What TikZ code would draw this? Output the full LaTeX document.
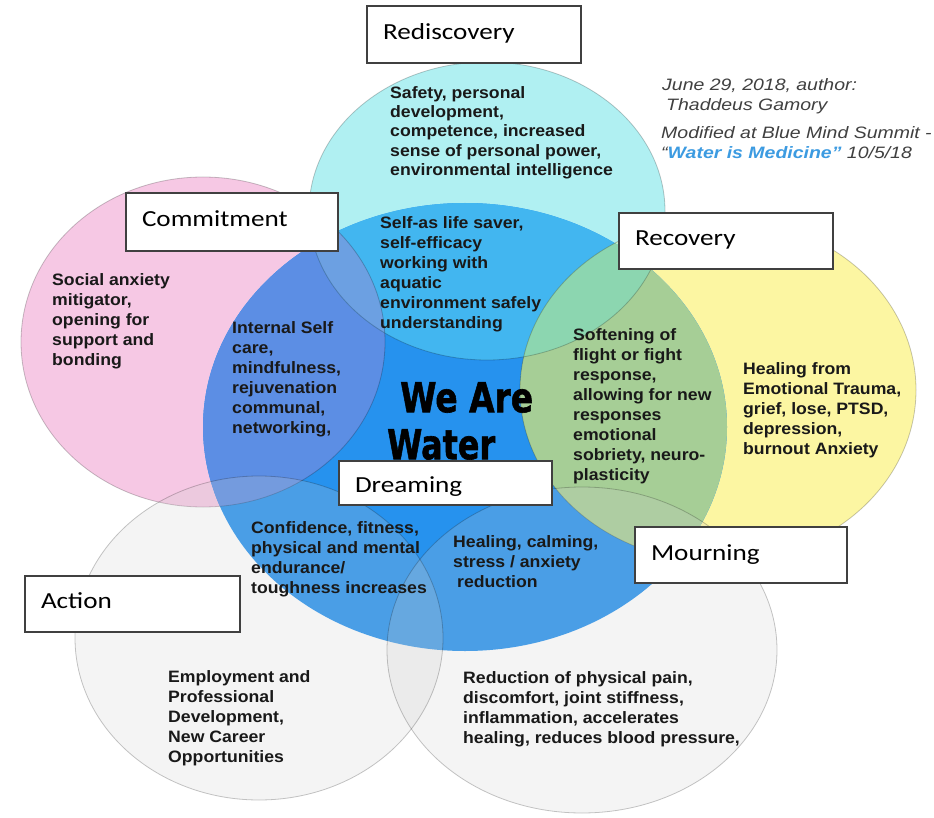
\documentclass[tikz,border=0pt]{standalone}
\usepackage{fontspec}
\usepackage{graphicx}
\setmainfont{Liberation Sans}
\newfontfamily\bodyfont{Liberation Sans}[FakeStretch=1.07]
\newfontfamily\notefont{Liberation Sans}[FakeStretch=1.18]
\newfontfamily\labelfont{Carlito}[FakeStretch=1.18]
\newfontfamily\bigfont{DejaVu Sans}[FakeBold=1.5]

% region colours
\definecolor{pinkF}{RGB}{246,200,228}
\definecolor{cyanF}{RGB}{176,240,242}
\definecolor{blueF}{RGB}{38,146,238}
\definecolor{yellowF}{RGB}{252,246,162}
\definecolor{pinkBlue}{RGB}{92,142,228}
\definecolor{cyanBlue}{RGB}{66,182,240}
\definecolor{pinkCyan}{RGB}{205,215,240}
\definecolor{pinkCyanBlue}{RGB}{108,160,226}
\definecolor{greenF}{RGB}{166,206,150}
\definecolor{tealF}{RGB}{140,214,176}
\definecolor{cyanYellow}{RGB}{200,244,206}
\definecolor{grayF}{RGB}{205,205,205}
\definecolor{noteBlue}{RGB}{60,155,225}

\begin{document}
\begin{tikzpicture}[x=1pt,y=-1pt,
  outline/.style={draw=black, draw opacity=0.22, line width=0.8pt},
  veil/.style={fill=grayF, fill opacity=0.22},
  bodytext/.style={anchor=north west, inner sep=0pt, align=left, text=black!90,
    font=\bodyfont\bfseries\fontsize{16.5}{20}\selectfont},
  notetext/.style={anchor=north west, inner sep=0pt, align=left, text=black!75,
    font=\notefont\itshape\fontsize{16.5}{20}\selectfont},
  labelbox/.style={draw=black!75, line width=1.2pt, fill=white, inner xsep=16pt,
    inner ysep=0pt, align=left, text height=15pt, text depth=5pt,
    font=\labelfont\fontsize{23}{26}\selectfont},
  bigword/.style={anchor=south west, inner sep=0pt, text=black}]

\useasboundingbox (0,0) rectangle (934,818);
\fill[white] (0,0) rectangle (934,818);

% the six overlapping ellipses
\def\shPink{(203,342) ellipse [x radius=182pt, y radius=165pt]}
\def\shCyan{(487,211) ellipse [x radius=178pt, y radius=149pt]}
\def\shBlue{(465,427) ellipse [x radius=262pt, y radius=224pt]}
\def\shYellow{(718,390) ellipse [x radius=198pt, y radius=172pt]}
\def\shAction{(259,638) ellipse [x radius=184pt, y radius=162pt]}
\def\shMourn{(582,650) ellipse [x radius=195pt, y radius=163pt]}

% base fills
\fill[pinkF] \shPink;
\fill[cyanF] \shCyan;
\fill[yellowF] \shYellow;
\begin{scope}
  \clip \shCyan;
  \fill[cyanYellow] \shYellow;
  \fill[pinkCyan] \shPink;
\end{scope}
\fill[blueF] \shBlue;

% overlaps inside the central circle
\begin{scope}
  \clip \shBlue;
  \fill[pinkBlue] \shPink;
  \fill[cyanBlue] \shCyan;
  \fill[greenF] \shYellow;
  \clip \shCyan;
  \fill[tealF] \shYellow;
  \fill[pinkCyanBlue] \shPink;
\end{scope}

\path[outline] \shPink;
\path[outline] \shCyan;
\path[outline] \shYellow;

% translucent lower circles
\fill[veil] \shAction;
\fill[veil] \shMourn;
\path[outline] \shAction;
\path[outline] \shMourn;

% texts in the regions
\node[bodytext, font=\bodyfont\bfseries\fontsize{16.5}{19.3}\selectfont] (tRedis) at (390,86)
  {Safety, personal\\development,\\competence, increased\\sense of personal power,\\environmental intelligence};
\node[bodytext] (tSelf) at (380,216)
  {Self-as life saver,\\self-efficacy\\working with\\aquatic\\environment safely\\understanding};
\node[bodytext] (tSocial) at (52,273)
  {Social anxiety\\mitigator,\\opening for\\support and\\bonding};
\node[bodytext] (tInternal) at (232,321)
  {Internal Self\\care,\\mindfulness,\\rejuvenation\\communal,\\networking,};
\node[bodytext] (tSoften) at (573,328)
  {Softening of\\flight or fight\\response,\\allowing for new\\responses\\emotional\\sobriety, neuro-\\plasticity};
\node[bodytext] (tTrauma) at (743,362)
  {Healing from\\Emotional Trauma,\\grief, lose, PTSD,\\depression,\\burnout Anxiety};
\node[bodytext] (tConf) at (251,521)
  {Confidence, fitness,\\physical and mental\\endurance/\\toughness increases};
\node[bodytext] (tCalm) at (453,535)
  {Healing, calming,\\stress / anxiety\\\hspace{4pt}reduction};
\node[bodytext] (tEmploy) at (168,670)
  {Employment and\\Professional\\Development,\\New Career\\Opportunities};
\node[bodytext] (tPain) at (463,671)
  {Reduction of physical pain,\\discomfort, joint stiffness,\\inflammation, accelerates\\healing, reduces blood pressure,};

% central title
\node[bigword] (weare) at (400,413) {\resizebox{133pt}{30pt}{\bigfont\bfseries We Are}};
\node[bigword] (water) at (387,460) {\resizebox{108pt}{30pt}{\bigfont\bfseries Water}};

% authorship notes
\node[notetext] (noteA) at (662,78) {June 29, 2018, author:\\\hspace{4pt}Thaddeus Gamory};
\node[notetext] (noteB) at (661,126)
  {Modified at Blue Mind Summit -\\“{\color{noteBlue}\bfseries Water is Medicine”} 10/5/18};

% stage labels
\node[labelbox, minimum width=214pt, minimum height=57pt, text width=182pt] (rediscovery) at (474,34.5) {Rediscovery};
\node[labelbox, minimum width=212pt, minimum height=58pt, text width=180pt] (commitment) at (232,222) {Commitment};
\node[labelbox, minimum width=214pt, minimum height=56pt, text width=182pt] (recovery) at (726,241) {Recovery};
\node[labelbox, minimum width=213pt, minimum height=44pt, text width=181pt, text height=20pt, text depth=2pt] (dreaming) at (445.5,483) {Dreaming};
\node[labelbox, minimum width=212pt, minimum height=56pt, text width=180pt] (mourning) at (741,555) {Mourning};
\node[labelbox, minimum width=215pt, minimum height=56pt, text width=183pt, text height=14pt, text depth=6pt] (action) at (132.5,604) {Action};

\end{tikzpicture}
\end{document}
